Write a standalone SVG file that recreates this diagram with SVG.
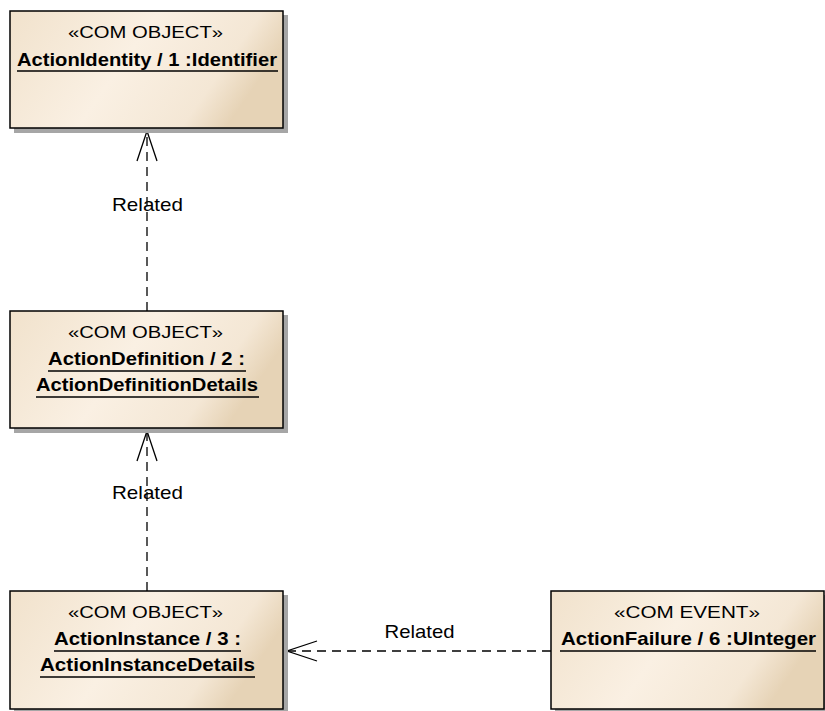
<svg xmlns="http://www.w3.org/2000/svg" width="825" height="711" viewBox="0 0 825 711">
<defs>
<linearGradient id="g" x1="0" y1="0" x2="1" y2="0.3">
<stop offset="0" stop-color="#F1E2CC"/>
<stop offset="0.5" stop-color="#FAF0E3"/>
<stop offset="0.85" stop-color="#F4E7D5"/>
<stop offset="1" stop-color="#E6D3B6"/>
</linearGradient>
<style>
.box{fill:url(#g);stroke:#000;stroke-width:1.5}
.sh{fill:#A6A6A6}
.st{font-family:"Liberation Sans",Arial,sans-serif;font-size:17px;fill:#000;text-anchor:middle}
.nm{font-family:"Liberation Sans",Arial,sans-serif;font-size:19px;font-weight:bold;fill:#000;text-anchor:middle}
.ul{stroke:#000;stroke-width:1.3}
.ln{fill:none;stroke:#000;stroke-width:1.3;stroke-dasharray:9,6}
.ah{fill:none;stroke:#000;stroke-width:1.3}
.lb{font-family:"Liberation Sans",Arial,sans-serif;font-size:19px;fill:#000;text-anchor:middle}
</style>
</defs>
<g id="connectors">
<line class="ln" x1="147" y1="311" x2="147" y2="131"/>
<polyline class="ah" points="137,161 147,131 157,161"/>
<text class="lb" x="147.5" y="211" textLength="71" lengthAdjust="spacingAndGlyphs">Related</text>
<line class="ln" x1="147" y1="591" x2="147" y2="431"/>
<polyline class="ah" points="137,461 147,431 157,461"/>
<text class="lb" x="147.5" y="499" textLength="71" lengthAdjust="spacingAndGlyphs">Related</text>
<line class="ln" x1="551" y1="651" x2="287" y2="651"/>
<polyline class="ah" points="317,641 287,651 317,661"/>
<text class="lb" x="419.5" y="638" textLength="70" lengthAdjust="spacingAndGlyphs">Related</text>
</g>
<g id="n1">
<rect class="sh" x="14" y="15" width="274" height="118"/>
<rect class="box" x="10" y="11" width="273" height="117"/>
<text class="st" x="145.5" y="38" textLength="155" lengthAdjust="spacingAndGlyphs">«COM OBJECT»</text>
<text class="nm" x="147" y="66" textLength="260" lengthAdjust="spacingAndGlyphs">ActionIdentity / 1 :Identifier</text>
<line class="ul" x1="17" y1="71" x2="278" y2="71"/>
</g>
<g id="n2">
<rect class="sh" x="14" y="315" width="274" height="118"/>
<rect class="box" x="10" y="311" width="273" height="117"/>
<text class="st" x="145.5" y="338" textLength="155" lengthAdjust="spacingAndGlyphs">«COM OBJECT»</text>
<text class="nm" x="146.5" y="365" textLength="197" lengthAdjust="spacingAndGlyphs">ActionDefinition / 2 :</text>
<line class="ul" x1="48" y1="371" x2="246" y2="371"/>
<text class="nm" x="147" y="391" textLength="222" lengthAdjust="spacingAndGlyphs">ActionDefinitionDetails</text>
<line class="ul" x1="36" y1="397" x2="259" y2="397"/>
</g>
<g id="n3">
<rect class="sh" x="14" y="595" width="274" height="118"/>
<rect class="box" x="10" y="591" width="273" height="118"/>
<text class="st" x="145.5" y="618" textLength="155" lengthAdjust="spacingAndGlyphs">«COM OBJECT»</text>
<text class="nm" x="147.5" y="645" textLength="187" lengthAdjust="spacingAndGlyphs">ActionInstance / 3 :</text>
<line class="ul" x1="54" y1="651" x2="241" y2="651"/>
<text class="nm" x="147.5" y="671" textLength="215" lengthAdjust="spacingAndGlyphs">ActionInstanceDetails</text>
<line class="ul" x1="40" y1="677" x2="255" y2="677"/>
</g>
<g id="n4">
<rect class="sh" x="555" y="595" width="274" height="118"/>
<rect class="box" x="551" y="591" width="273" height="118"/>
<text class="st" x="687" y="618" textLength="146" lengthAdjust="spacingAndGlyphs">«COM EVENT»</text>
<text class="nm" x="688.5" y="645" textLength="255" lengthAdjust="spacingAndGlyphs">ActionFailure / 6 :UInteger</text>
<line class="ul" x1="560" y1="651" x2="816" y2="651"/>
</g>
</svg>
